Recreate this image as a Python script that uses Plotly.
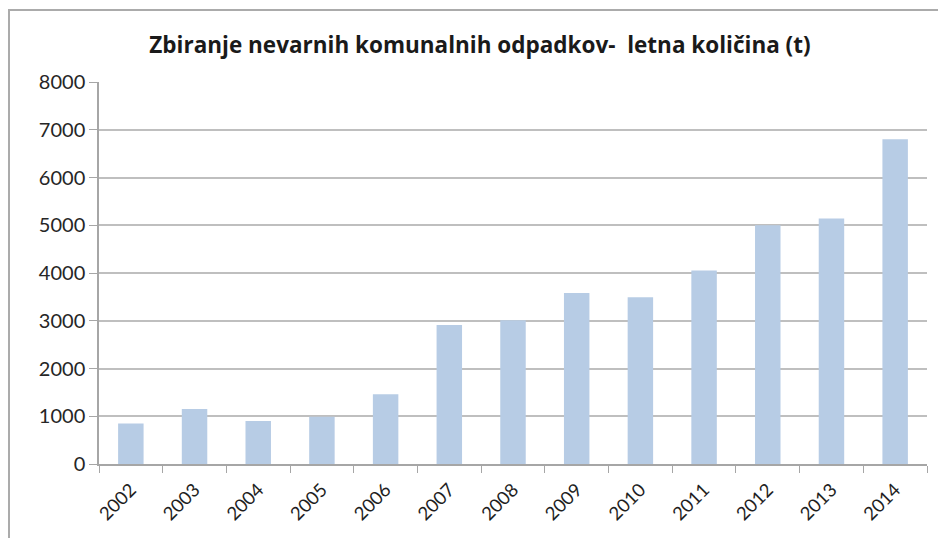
import plotly.graph_objects as go

years = ["2002", "2003", "2004", "2005", "2006", "2007", "2008",
         "2009", "2010", "2011", "2012", "2013", "2014"]
values = [850, 1150, 900, 990, 1460, 2910, 3010, 3580, 3490, 4050, 5000, 5140, 6800]
y_ticks = [0, 1000, 2000, 3000, 4000, 5000, 6000, 7000, 8000]
title_text = "Zbiranje nevarnih komunalnih odpadkov-  letna količina (t)"

W, H = 946, 538
L, R, T, B = 91, 27, 74, 82  # page is offset by the 8px body margin
PW, PH = W - L - R, H - T - B

fig = go.Figure(go.Bar(x=years, y=values, marker=dict(color="#b7cce5", line=dict(width=0)),
                       width=0.4))

fig.update_layout(
    width=W, height=H,
    margin=dict(l=L, r=R, t=T, b=B),
    paper_bgcolor="white", plot_bgcolor="white",
    showlegend=False,
    font=dict(family="Lato", color="#262626"),
    title=dict(text="<b>" + title_text + "</b>", x=472 / W, xanchor="center",
               y=1 - 37 / H, yanchor="middle",
               font=dict(family="Open Sans", size=22.5, color="#1a1a1a")),
)
fig.update_xaxes(
    type="category", tickangle=-45, tickson="boundaries",
    ticks="outside", ticklen=7, tickcolor="#a6a6a6",
    showline=True, linecolor="#a6a6a6", linewidth=1.5,
    showgrid=False, tickfont=dict(size=18.5, color="#1f1f1f"),
    ticklabelstandoff=6,
)
fig.update_yaxes(
    range=[0, 8000], tickvals=y_ticks, ticks="outside", ticklen=8,
    tickcolor="#a6a6a6", showline=True, linecolor="#a6a6a6", linewidth=1.5,
    showgrid=True, gridcolor="#bfbfbf", gridwidth=1.5,
    zeroline=False, tickfont=dict(size=20, color="#262626"),
)
fig.add_shape(type="rect", xref="paper", yref="paper",
              x0=(1 - L) / PW, x1=1.2, y0=-0.5, y1=1 + (T - 2) / PH,
              line=dict(color="#ababab", width=2), fillcolor="rgba(0,0,0,0)", layer="below")

fig.write_html("out.html")
